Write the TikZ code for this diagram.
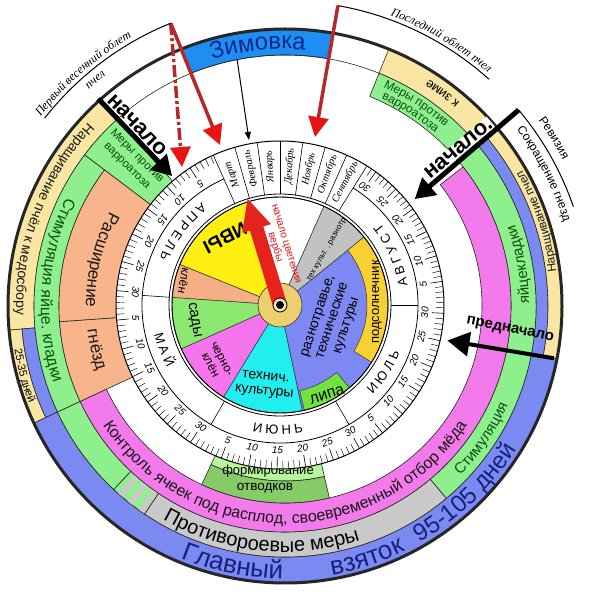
\documentclass[tikz,border=0pt]{standalone}
\usepackage{fontspec}
\setmainfont{Liberation Sans}
\newfontfamily\handfont{Liberation Serif}
\usetikzlibrary{decorations.text,arrows.meta,calc}
\definecolor{cZim}{HTML}{1E8EF2}
\definecolor{cZimT}{HTML}{0C2A8E}
\definecolor{cYel}{HTML}{F9E6A2}
\definecolor{cGrn}{HTML}{8DF08D}
\definecolor{cOra}{HTML}{F8B58C}
\definecolor{cPnk}{HTML}{F27AEA}
\definecolor{cGry}{HTML}{C9C9C9}
\definecolor{cPer}{HTML}{7A8AF0}
\definecolor{cNavy}{HTML}{17217E}
\definecolor{cDkG}{HTML}{0D4F0D}
\definecolor{wYel}{HTML}{FFF012}
\definecolor{wKlen}{HTML}{F4AF86}
\definecolor{wSad}{HTML}{8DE86F}
\definecolor{wMag}{HTML}{F575EC}
\definecolor{wCya}{HTML}{22EEF0}
\definecolor{wBlu}{HTML}{7D88F2}
\definecolor{wSun}{HTML}{F8D032}
\definecolor{wLip}{HTML}{72E23E}
\definecolor{wGry}{HTML}{C2C2C2}
\definecolor{cHub}{HTML}{EDCF6E}
\definecolor{cFrm}{HTML}{B8F59C}
\definecolor{cOtv}{HTML}{86CB68}
\definecolor{cRedL}{HTML}{B42A2A}
\definecolor{cRedH}{HTML}{E81414}
\definecolor{cHand}{HTML}{E5221C}
\newcommand\fsz[1]{\fontsize{#1pt}{#1pt}\selectfont}
\newcommand\ringsec[6][]{\path[#1,shift={(#2)}] (#5:#3) arc[start angle=#5,end angle=#6,radius=#3] -- (#6:#4) arc[start angle=#6,end angle=#5,radius=#4] -- cycle;}
\newcommand\piesec[5][]{\path[#1,shift={(#2)}] (0,0) -- (#3:#5) arc[start angle=#3,end angle=#4,radius=#5] -- cycle;}
\newcommand\txtin[6]{\path[shift={(#1)},decorate,decoration={text along path,text align=center,text={|#5|#6}}] ({#3-#4}:#2) arc[start angle={#3-#4},end angle={#3+#4},radius=#2];}
\newcommand\txtout[6]{\path[shift={(#1)},decorate,decoration={text along path,text align=center,text={|#5|#6}}] ({#3+#4}:#2) arc[start angle={#3+#4},end angle={#3-#4},radius=#2];}
\begin{document}
\begin{tikzpicture}[x=1pt,y=1pt,
  sep/.style={draw=black!85,line width=0.6pt},
  wsep/.style={draw=black!80,line width=0.5pt},
  nach/.style={line width=5pt,-{Triangle[length=20pt,width=22pt]}},
  redarr/.style={line width=3.5pt,draw=cRedL,-{Triangle[length=20pt,width=20pt,color=cRedH]}},
  wlab/.style={inner sep=0pt,align=center}]
\useasboundingbox (0,0) rectangle (590,598);
\fill[white] (0,0) rectangle (590,598);
\coordinate (O2) at (285,292);
\coordinate (O1) at (280,293);

% ---------- outer band A
\ringsec[fill=cYel,sep]{O2}{251}{277}{132}{185}
\ringsec[fill=cYel,sep]{O2}{264}{277}{185}{205}
\ringsec[fill=cPer,sep]{O2}{251}{264}{185}{205}
\ringsec[fill=cPer,sep]{O2}{251}{277}{205}{349}
\ringsec[fill=cPer,sep]{O2}{251}{263}{349}{400}
\ringsec[fill=cYel,sep]{O2}{263}{277}{349}{400}
\ringsec[fill=cYel,sep]{O2}{251}{277}{400}{428}
\ringsec[fill=cZim,sep]{O2}{251}{277}{80}{112}
% ---------- band B
\ringsec[fill=cGrn,sep]{O2}{158}{251}{132}{143}
\ringsec[fill=cGrn,sep]{O2}{226}{251}{143}{205}
\ringsec[fill=cGrn,sep]{O2}{226}{251}{205}{227}
\ringsec[fill=cGrn,sep]{O2}{226}{251}{227}{236}
\foreach \s in {228.2,231.2,234.2}{\pgfmathsetmacro\se{\s+1.5}\ringsec[fill=cGry]{O2}{226.3}{250.7}{\s}{\se}}
\ringsec[fill=cGry,sep]{O2}{226}{251}{236}{310}
\ringsec[fill=cGrn,sep]{O2}{226}{251}{310}{428}
% ---------- bands C / D
\ringsec[fill=cOra,sep]{O2}{158}{226}{143}{184}
\ringsec[fill=cOra,sep]{O2}{158}{226}{184}{205}
\ringsec[fill=cPnk,sep]{O2}{197}{226}{205}{398}
\ringsec[fill=cFrm,sep]{O2}{158}{175}{245}{283}
\ringsec[fill=cOtv,sep]{O2}{175}{197}{245}{283}
\draw[sep,shift={(O2)}] (68:251) arc[start angle=68,end angle=132,radius=251];
\draw[line width=3pt,draw=black!85] (O2) circle[radius=277];

% ---------- texts of the outer rings
\txtout{O2}{257}{96}{50}{\fsz{24}\color{cZimT}}{Зимовка}
\txtin{O2}{273}{258.5}{40}{\fsz{26}\color{cNavy}}{Главный}
\txtin{O2}{273}{288}{40}{\fsz{26}\color{cNavy}}{взяток}
\txtin{O2}{272}{314}{40}{\fsz{24}\color{cNavy}}{95-105 дней}
\txtin{O2}{246}{264}{60}{\fsz{20}\color{black}}{Противороевые меры}
\txtin{O2}{217.5}{270}{80}{\fsz{16}\color{black!90}}{Контроль ячеек под расплод, своевременный отбор мёда}
\txtin{O2}{244}{326}{30}{\fsz{15}\color{cDkG}}{Стимуляция}
\txtin{O2}{244}{10}{30}{\fsz{15}\color{cDkG}}{яйцекладки}
\txtin{O2}{273.5}{18.5}{30}{\fsz{12}\color{black!90}}{Наращивание пчел}
\txtin{O2}{268.5}{53.5}{25}{\fsz{13}\color{black}}{к зиме}
\txtin{O2}{269}{159.5}{40}{\fsz{14}\color{black!90}}{Наращивание пчёл к медосбору}
\txtin{O2}{274}{195}{20}{\fsz{11}\color{black}}{25-35 дней}
\txtin{O2}{244}{176}{40}{\fsz{16}\color{cDkG}}{Стимуляция яйце. кладки}
\txtin{O2}{199}{166}{30}{\fsz{17}\color{black!90}}{Расширение}
\txtin{O2}{199}{193}{20}{\fsz{17}\color{black!90}}{гнёзд}
\txtout{O2}{240}{57}{30}{\fsz{12}\color{cDkG}}{Меры против}
\txtout{O2}{229}{57}{30}{\fsz{12}\color{cDkG}}{варроатоза}
\node[rotate=-45,align=center,text=cDkG,font=\fontsize{11.5pt}{14pt}\selectfont,inner sep=0pt] (mvL) at (132,437) {Меры против\\варроатоза};
\node[font=\fsz{13},inner sep=0pt] (frm) at (268,127) {формирование};
\node[font=\fsz{13.5},inner sep=0pt] (otv) at (265,110) {отводков};

% ---------- inner disc
\begin{scope}[shift={(O1)}]
  \fill[white] (0,0) circle[radius=164];
  \draw[line width=1pt] (0,0) circle[radius=164];
  \draw[line width=0.8pt] (114:138) arc[start angle=114,end angle=418,radius=138];
  \draw[line width=0.8pt] (0,0) circle[radius=111];
  \foreach \a in {58,66,...,114} \draw[line width=0.6pt] (\a:111) -- (\a:164);
  \foreach \a in {176,240,300,360} \draw[line width=0.6pt] (\a:111) -- (\a:138);
  \foreach \a/\m in {62/Сентябрь,70/Октябрь,78/Ноябрь,86/Декабрь,94/Январь,102/Февраль,110/Март}
    \node[rotate=\a,font=\handfont\itshape\fsz{10.5},inner sep=0pt] at (\a:139) {\m};
  \foreach \ma/\mb/\mn in {114/176/30,176/240/31,240/300/30,300/360/31,360/417/31}{
    \foreach \d in {1,...,\mn}{
      \pgfmathsetmacro\ang{\ma+(\d-0.5)*(\mb-\ma)/\mn}
      \pgfmathtruncatemacro\rem{mod(\d,5)}
      \ifnum\rem=0
        \draw[line width=0.6pt] (\ang:164) -- (\ang:152);
        \pgfmathsetmacro\rot{\ang+90}
        \node[rotate=\rot,font=\itshape\fsz{10},inner sep=0pt] at (\ang:145) {\d};
      \else
        \draw[line width=0.45pt] (\ang:164) -- (\ang:156);
      \fi
    }
  }
\end{scope}
\txtin{O1}{129}{143}{40}{\fsz{13}}{А П Р Е Л Ь}
\txtin{O1}{129}{201}{30}{\fsz{13}}{М А Й}
\txtin{O1}{129}{269}{30}{\fsz{13}}{И Ю Н Ь}
\txtin{O1}{129}{327}{30}{\fsz{13}}{И Ю Л Ь}
\txtin{O1}{129}{24}{35}{\fsz{13}}{А В Г У С Т}

% ---------- colour wheel
\piesec[fill=white,wsep]{O1}{66}{107}{108}
\piesec[fill=wYel,wsep]{O1}{107}{158}{108}
\piesec[fill=wKlen,wsep]{O1}{158}{176}{108}
\piesec[fill=wSad,wsep]{O1}{176}{204}{108}
\piesec[fill=wMag,wsep]{O1}{204}{238.5}{108}
\piesec[fill=wCya,wsep]{O1}{238.5}{282}{108}
\piesec[fill=wBlu,wsep]{O1}{282}{399}{108}
\piesec[fill=wGry,wsep]{O1}{39}{66}{108}
\ringsec[fill=wSun,wsep]{O1}{87}{108}{-32}{39}
\ringsec[fill=wLip,wsep]{O1}{88}{108}{283}{310}
\draw[line width=0.9pt] (O1) circle[radius=108];
\node[wlab,rotate=207,font=\bfseries\fsz{19}] (ivy) at (225,360) {ИВЫ};
\node[wlab,rotate=-100,font=\fsz{12}] (klen) at (184,317) {клён};
\node[wlab,rotate=-80,font=\fsz{15}] (sady) at (194,278) {сады};
\node[wlab,rotate=-62,font=\fontsize{12pt}{13pt}\selectfont] (chk) at (216,236) {черно-\\клён};
\node[wlab,rotate=-6,font=\fontsize{14pt}{15pt}\selectfont] (tech) at (265,213) {технич.\\культуры};
\node[wlab,rotate=72,font=\fontsize{14pt}{15pt}\selectfont] (razn) at (333,277) {разнотравье,\\технические\\культуры};
\node[wlab,rotate=90,font=\fsz{13}] (pods) at (377,296) {подсолнечник};
\node[wlab,rotate=18,font=\fsz{16}] (lipa) at (327,203) {липа};
\node[wlab,rotate=60,font=\fsz{8}] (tk) at (327,348) {тех культ. , разнотр};
\fill[cHub,draw=black!80,line width=0.6pt] (O1) circle[radius=22];
\begin{scope}[shift={(O1)},rotate=107]
  \fill[cHand] (0,-7) -- (80,-7) -- (80,-15) -- (111,0) -- (80,15) -- (80,7) -- (0,7) -- cycle;
\end{scope}
\fill[cHub!50!white,draw=black,line width=0.8pt] (O1) circle[radius=7];
\fill[black] (O1) circle[radius=4];
\node[rotate=-73,align=center,text=cRedH,font=\fontsize{10.5pt}{11.5pt}\selectfont,inner sep=0pt] (verba) at (280,352) {начало цветения\\вербы};

% ---------- arrows
\coordinate (lnA) at ($(O2)+(132:279)$);
\coordinate (lnB) at ($(O2)+(131:172)$);
\coordinate (rnA) at ($(O2)+(40:305)$);
\coordinate (rnB) at ($(O2)+(39.5:168)$);
\coordinate (pnA) at ($(O2)+(-11:274)$);
\coordinate (pnB) at ($(O2)+(-12:166)$);
\coordinate (flyL) at ($(O2)+(112:305)$);
\coordinate (flyR) at ($(O2)+(80:305)$);
\coordinate (zimA) at ($(O2)+(101:251)$);
\coordinate (zimB) at (249,458);
\coordinate (redT1) at (182,431);
\coordinate (redT2) at (220,453);
\coordinate (redT3) at (315,461);
\draw[nach] (lnA) -- (lnB);
\draw[nach] (rnA) -- (rnB);
\draw[line width=4pt,-{Triangle[length=22pt,width=24pt]}] (pnA) -- (pnB);
\draw[redarr,dash pattern=on 12pt off 3pt on 3pt off 3pt] (flyL) -- (redT1);
\draw[redarr] (flyL) -- (redT2);
\draw[redarr] (flyR) -- (redT3);
\draw[line width=1pt,-{Triangle[length=8pt,width=6pt]}] (zimA) -- (zimB);
\node[rotate=-46,font=\bfseries\fsz{22},inner sep=0pt] (nachL) at (137,473) {начало};
\node[rotate=40,font=\bfseries\fsz{22},fill=white,inner sep=0.5pt] (nachR) at ($(O2)+(40:234)+(130:9)$) {начало.};
\node[rotate=-11,font=\bfseries\fsz{15},inner sep=0pt] (prenach) at (510,268) {предначало};

% ---------- outside brackets
\draw[line width=1pt,shift={(O2)}] (142:305) arc[start angle=142,end angle=112,radius=305];
\draw[line width=1pt,shift={(O2)}] (80:305) arc[start angle=80,end angle=48,radius=305];
\draw[line width=1pt,shift={(O2)}] (40:305) arc[start angle=40,end angle=19,radius=305];
\txtout{O2}{309}{131}{30}{\handfont\itshape\fsz{12}}{Первый весенний облет}
\txtout{O2}{292}{130}{20}{\handfont\itshape\fsz{12}}{пчел}
\txtout{O2}{309}{59.5}{30}{\handfont\itshape\fsz{12}}{Последний облет пчел}
\txtout{O2}{314}{32}{25}{\fsz{12}}{Ревизия}
\txtout{O2}{291}{27}{25}{\fsz{12}}{Сокращение гнезд}
\end{tikzpicture}
\end{document}
